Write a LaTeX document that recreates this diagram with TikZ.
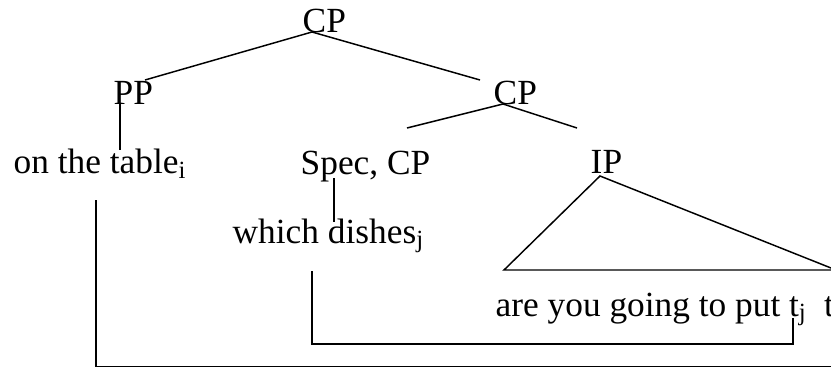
\documentclass[tikz,border=0pt]{standalone}
\usepackage{fontspec}
\setmainfont{Liberation Serif}

\tikzset{
  lbl/.style={anchor=base west,inner sep=0pt,font=\fontsize{26.5}{31}\selectfont},
  br/.style={line width=1.1pt},
}

\begin{document}
\begin{tikzpicture}[x=0.75pt,y=-0.75pt,br]
\useasboundingbox (0,0) rectangle (831,367);
\clip (0,0) rectangle (831,367);

% labels
\node[lbl] (cp1)  at (302,33)  {CP};
\node[lbl] (pp)   at (113,105) {PP};
\node[lbl] (cp2)  at (493,105) {CP};
\node[lbl] (tbl)  at (13,174)  {on the table\textsubscript{i}};
\node[lbl] (spec) at (300,175) {Spec, CP};
\node[lbl] (ip)   at (590,174) {IP};
\node[lbl] (wh)   at (232,243) {which dishes\textsubscript{j}};
\node[lbl] (ayg)  at (495,316) {are you going to put t\textsubscript{j}\ \ t\textsubscript{i}};

% branch points
\coordinate (cp1b) at (312,32);
\coordinate (ppt)  at (145,80);
\coordinate (cp2t) at (480,80);
\coordinate (cp2b) at (503,104);
\coordinate (spt)  at (407,128);
\coordinate (ipt)  at (577,128);
\coordinate (ipb)  at (600,176);
\coordinate (trl)  at (504,270);
\coordinate (trr)  at (836,270);
\coordinate (ppb)  at (120,103);
\coordinate (tbt)  at (120,150);
\coordinate (spb)  at (334,178);
\coordinate (wht)  at (334,222);

\draw (cp1b) -- (ppt);
\draw (cp1b) -- (cp2t);
\draw (cp2b) -- (spt);
\draw (cp2b) -- (ipt);
\draw (ipb) -- (trl) -- (trr) -- cycle;
\draw (ppb) -- (tbt);
\draw (spb) -- (wht);

% movement lines
\coordinate (ti) at (96,200);
\coordinate (wj) at (312,271);
\coordinate (tj) at (793,318);
\coordinate (te) at (840,367);
\draw (ti) |- (te);
\draw (wj) -- (312,344) -| (tj);
\end{tikzpicture}
\end{document}
